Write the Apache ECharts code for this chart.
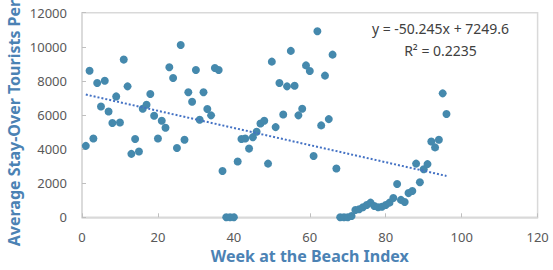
<!DOCTYPE html>
<html>
<head>
<meta charset="utf-8">
<script src="https://cdn.jsdelivr.net/npm/echarts@6/dist/echarts.min.js"></script>
<style>html,body{margin:0;padding:0;background:#fff;}#c{width:553px;height:270px;}</style>
</head>
<body>
<div id="c"></div>
<script>
var weekIndex = [1,2,3,4,5,6,7,8,9,10,11,12,13,14,15,16,17,18,19,20,21,22,23,24,25,26,27,28,29,30,31,32,33,34,35,36,37,38,39,40,41,42,43,44,45,46,47,48,49,50,51,52,53,54,55,56,57,58,59,60,61,62,63,64,65,66,67,68,69,70,71,72,73,74,75,76,77,78,79,80,81,82,83,84,85,86,87,88,89,90,91,92,93,94,95,96];
var tourists = [4190,8600,4620,7880,6500,8010,6210,5530,7090,5560,
  9250,7680,3720,4590,3860,6370,6600,7230,5960,4620,
  5660,5250,8800,8170,4060,10110,4550,7330,6780,8640,
  5720,7330,6350,5980,8760,8640,2720,0,0,0,
  3270,4590,4620,4030,4700,5020,5500,5660,3150,9130,
  5290,7880,6030,7680,9760,7720,5980,6370,8910,8580,
  3600,10910,5390,8310,5760,9540,2860,0,0,0,
  80,430,470,590,720,860,660,590,620,720,
  860,1130,1950,1020,900,1420,1540,3150,2060,2820,
  3120,4450,4100,4550,7270,6060];
var trendSlope = -50.245;
var trendIntercept = 7249.6;
var trendRange = [1, 96];
var xTicks = [0, 120, 20];
var yTicks = [0, 12000, 2000];
var equationText = 'y = -50.245x + 7249.6';
var r2Text = 'R\u00b2 = 0.2235';
var xTitle = 'Week at the Beach Index';
var yTitle = 'Average Stay-Over Tourists Per';

var pts = weekIndex.map(function (x, i) { return [x, tourists[i]]; });
var trend = trendRange.map(function (x) { return [x, trendSlope * x + trendIntercept]; });

var FONT = '"Noto Sans", "Open Sans", sans-serif';
var gray = '#d9d9d9';
var chart = echarts.init(document.getElementById('c'), null, { renderer: 'svg' });
chart.setOption({
  animation: false,
  backgroundColor: '#fff',
  grid: { left: 82, right: 15.4, top: 12.7, bottom: 52.7, show: true, borderColor: gray, borderWidth: 1.5 },
  xAxis: {
    type: 'value', min: xTicks[0], max: xTicks[1], interval: xTicks[2],
    splitLine: { show: false },
    axisLine: { lineStyle: { color: gray, width: 1.5 } },
    axisTick: { inside: true, length: 4, lineStyle: { color: '#bfbfbf' } },
    axisLabel: { color: '#595959', fontSize: 13, fontFamily: FONT, margin: 13,
      formatter: function (v) { return String(v); } },
    name: xTitle, nameLocation: 'middle', nameGap: 30,
    nameTextStyle: { color: '#4b82b4', fontSize: 16, fontWeight: 'bold', fontFamily: FONT }
  },
  yAxis: {
    type: 'value', min: yTicks[0], max: yTicks[1], interval: yTicks[2],
    splitLine: { show: false },
    axisLine: { show: true, lineStyle: { color: gray, width: 1.5 } },
    axisTick: { show: true, inside: true, length: 4, lineStyle: { color: '#bfbfbf' } },
    axisLabel: { color: '#595959', fontSize: 13, fontFamily: FONT, margin: 15,
      formatter: function (v) { return String(v); } }
  },
  graphic: [
    { type: 'text', x: 14, y: 123, rotation: Math.PI / 2,
      style: { text: yTitle, fill: '#4b82b4', font: 'bold 16px ' + FONT, textAlign: 'center', textVerticalAlign: 'middle' } },
    { type: 'text', x: 440.5, y: 28.5,
      style: { text: equationText, fill: '#404040', font: '14px ' + FONT, textAlign: 'center', textVerticalAlign: 'middle' } },
    { type: 'text', x: 440.5, y: 50,
      style: { text: r2Text, fill: '#404040', font: '14px ' + FONT, textAlign: 'center', textVerticalAlign: 'middle' } }
  ],
  series: [
    { type: 'scatter', data: pts, symbolSize: 8, itemStyle: { color: '#4589ad', opacity: 1 }, z: 3 },
    { type: 'line', data: trend, symbol: 'none', z: 4,
      lineStyle: { color: '#4472c4', width: 2, type: 'dotted' } }
  ]
});
</script>
</body>
</html>
